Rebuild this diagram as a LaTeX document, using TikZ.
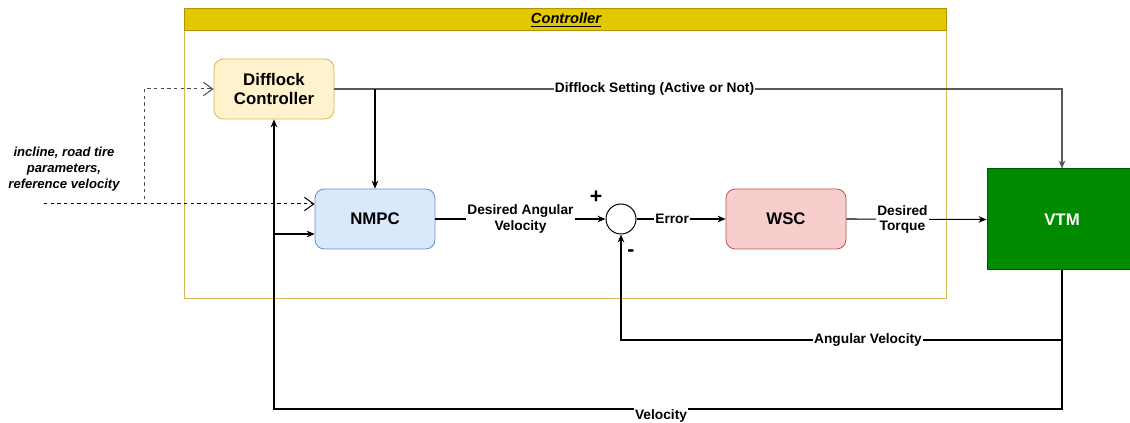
\documentclass[tikz,border=0pt]{standalone}
\usepackage{fontspec}
\setmainfont{Liberation Sans}
\usetikzlibrary{arrows.meta}
\usepackage{xcolor}

\definecolor{headfill}{HTML}{E3C800}
\definecolor{headdraw}{HTML}{B09500}
\definecolor{boxdraw}{HTML}{D6B656}
\definecolor{difffill}{HTML}{FFF2CC}
\definecolor{nmpcfill}{HTML}{DAE8FC}
\definecolor{nmpcdraw}{HTML}{6C8EBF}
\definecolor{wscfill}{HTML}{F8CECC}
\definecolor{wscdraw}{HTML}{B85450}
\definecolor{vtmfill}{HTML}{008A00}
\definecolor{vtmdraw}{HTML}{005700}

\tikzset{
  block/.style={draw, rounded corners=7pt, line width=0.6pt, minimum width=90pt, minimum height=45pt,
    align=center, font=\fontsize{12.6}{14.5}\selectfont\bfseries},
  lbl/.style={fill=white, inner sep=1pt, align=center, font=\fontsize{10.3}{11.5}\selectfont\bfseries},
  sig/.style={line width=0.8pt, -{Stealth[length=6pt,width=5pt]}},
  inp/.style={line width=0.75pt, dash pattern=on 2.5pt off 2.5pt, -{Straight Barb[length=7pt,width=10pt]}}
}

\begin{document}
\begin{tikzpicture}[x=0.75pt,y=-0.75pt]
        \useasboundingbox (0,0) rectangle (1130,423);

        % Controller frame
        \draw[boxdraw, line width=0.75pt] (184,9) rectangle (946,299);
        \draw[headdraw, fill=headfill, line width=0.75pt] (184,9) rectangle (946,31);
        \node[font=\fontsize{11}{12}\selectfont\bfseries\itshape] (ctrltitle) at (566,20) {\underline{Controller}};

        % Blocks
        \node[block, fill=difffill, draw=boxdraw] (diff) at (274,89) {Difflock\\Controller};
        \node[block, fill=nmpcfill, draw=nmpcdraw] (nmpc) at (375,219) {NMPC};
        \node[draw, circle, line width=0.75pt, minimum size=22.5pt, inner sep=0pt] (sum) at (621,219) {};
        \node[block, fill=wscfill, draw=wscdraw] (wsc) at (786,219) {WSC};
        \node[draw=vtmdraw, fill=vtmfill, text=white, line width=0.75pt, minimum width=112.5pt, minimum height=75.75pt,
          font=\fontsize{12.6}{14.5}\selectfont\bfseries] (vtm) at (1062,219.5) {VTM};

        % Signs at the summing point
        \node[font=\fontsize{16}{16}\selectfont\bfseries] (plus) at (596,197) {+};
        \node[font=\fontsize{16}{16}\selectfont\bfseries] (minus) at (631,253) {-};

        % External inputs
        \node[align=center, font=\fontsize{9.8}{12}\selectfont\bfseries\itshape] (ext) at (64,169)
          {incline, road tire\\parameters,\\reference velocity};
        \coordinate (extin) at (44,204);
        \coordinate (extup) at (144,199);
        \draw[inp] (extin) -- (extin -| nmpc.west);
        \draw[inp, black!70] (extup) |- (diff.west);

        % Forward path
        \draw[sig, black!65] (diff.east) -| (vtm.north) node[lbl, pos=0.22, text=black] (setlbl) {Difflock Setting (Active or Not)};
        \draw[sig] (nmpc.north |- diff.east) -- (nmpc.north);
        \draw[sig] (nmpc.east) -- (sum.west) node[lbl, midway] (wlbl) {Desired Angular\\Velocity};
        \draw[sig] (sum.east) -- (wsc.west) node[lbl, pos=0.4] (errlbl) {Error};
        \draw[sig] (wsc.east) -- (vtm.west) node[lbl, pos=0.4] (tqlbl) {Desired\\Torque};

        % Feedback paths
        \coordinate (avfb) at (1062,340);
        \coordinate (vfb) at (274,409);
        \coordinate (vbr) at (274,234);
        \draw[sig] (vtm.south) -- (avfb) -| (sum.south) node[lbl, pos=0.22] (avlbl) {Angular Velocity};
        \draw[sig] (vtm.south) |- (vfb) -- (diff.south);
        \draw[sig] (vbr) -- (vbr -| nmpc.west);
        \node[lbl] (vlbl) at (661,416) {Velocity};
    \end{tikzpicture}
\end{document}
